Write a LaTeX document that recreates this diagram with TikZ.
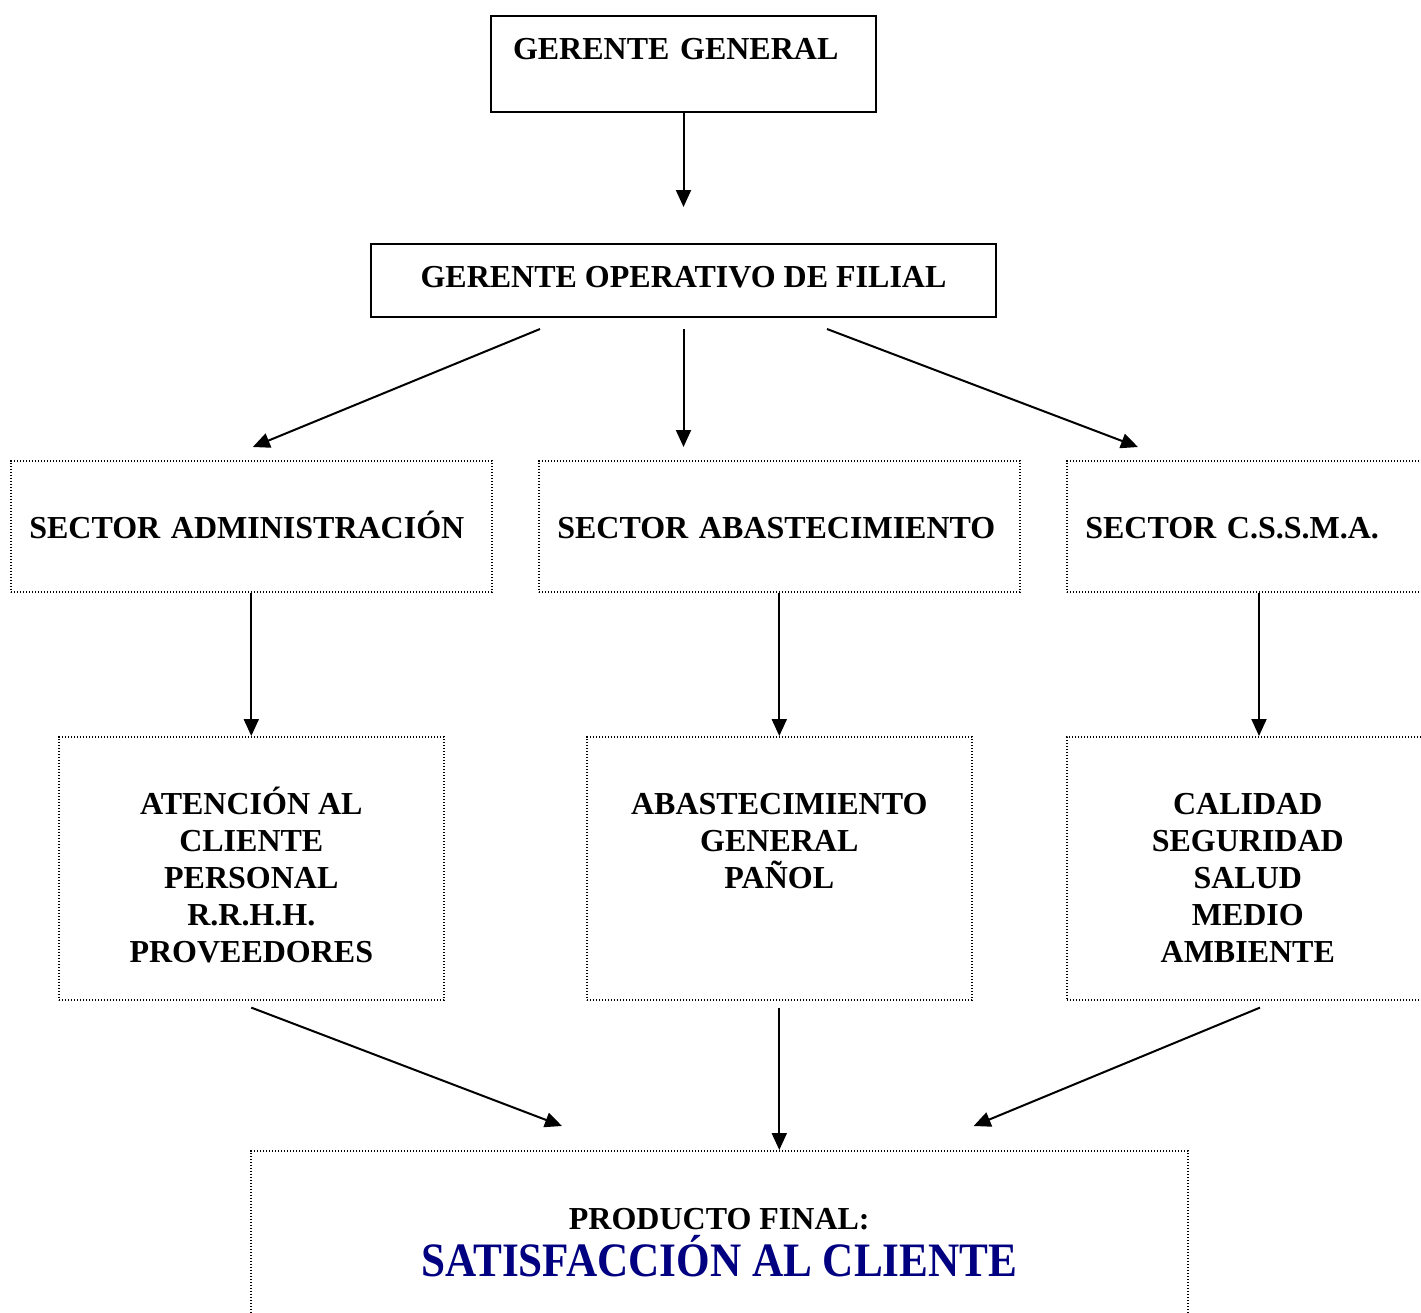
\documentclass[tikz,border=0pt]{standalone}
\usepackage{fontspec}
\usepackage{graphicx}
\setmainfont{Liberation Serif}
\usetikzlibrary{arrows.meta, calc}
\definecolor{navytext}{RGB}{0,0,128}
\tikzstyle{headbox} = [rectangle, draw=black, line width=1pt, inner sep=0pt, font=\bfseries\fontsize{16}{18.5}\selectfont]
\tikzstyle{sectorbox} = [rectangle, draw=black, line width=0.8pt, dash pattern=on 0.6pt off 0.9pt, minimum width=240.5pt, minimum height=65.5pt, text width=222pt, inner xsep=9.25pt, inner ysep=0pt, align=left, text height=12.5pt, text depth=0pt, font=\bfseries\fontsize{16}{18.5}\selectfont]
\tikzstyle{areabox} = [rectangle, draw=black, line width=0.8pt, dash pattern=on 0.6pt off 0.9pt, minimum width=192.5pt, inner sep=0pt, align=center, font=\bfseries\fontsize{16}{18.5}\selectfont]
\tikzstyle{arrow} = [line width=1pt, -{Triangle[length=8.5pt,width=7.5pt]}]

\begin{document}
\begin{tikzpicture}[x=0.5pt, y=-0.5pt]
    \useasboundingbox (0,0) rectangle (1421,1313);

    % Gerencia
    \node (gg) [headbox, anchor=north west, text width=170.5pt, inner xsep=11pt, align=left, text height=21.5pt, text depth=26.5pt] at (490,15) {GERENTE GENERAL};
    \node (go) [headbox, anchor=north west, minimum width=312.5pt, minimum height=36.5pt, text height=11pt, text depth=4.5pt] at (370,243) {GERENTE OPERATIVO DE FILIAL};

    % Sectores
    \node (sa) [sectorbox, anchor=north west] at (10,460) {SECTOR ADMINISTRACIÓN};
    \node (sb) [sectorbox, anchor=north west] at (538,460) {SECTOR ABASTECIMIENTO};
    \node (sc) [sectorbox, anchor=north west] at (1066,460) {SECTOR C.S.S.M.A.};

    % Areas
    \node (ac) [areabox, anchor=north west, text height=113pt, text depth=18.5pt] at (58,736) {ATENCIÓN AL\\CLIENTE\\PERSONAL\\R.R.H.H.\\PROVEEDORES};
    \node (ab) [areabox, anchor=north west, text height=76pt, text depth=55.5pt] at (586,736) {ABASTECIMIENTO\\GENERAL\\PAÑOL};
    \node (css) [areabox, anchor=north west, minimum width=181pt, text height=113pt, text depth=18.5pt] at (1066,736) {CALIDAD\\SEGURIDAD\\SALUD\\MEDIO\\AMBIENTE};

    % Producto final
    \node (pf) [areabox, anchor=north west, minimum width=468.5pt, text height=63pt, text depth=40pt] at (250,1150) {PRODUCTO FINAL:\\[2pt]{\color{navytext}\scalebox{0.9}[1]{\fontsize{24}{26}\selectfont SATISFACCIÓN AL CLIENTE}}};

    % Arrows
    \draw [arrow, shorten >=18pt] (gg.south) -- (go.north);
    \draw [arrow] ($(go.south)+(-143.5,11)$) -- ($(sa.north)+(1.5,-13)$);
    \draw [arrow] ($(go.south)+(0,11)$) -- ($(go.south |- sb.north)+(0,-13)$);
    \draw [arrow] ($(go.south)+(143.5,11)$) -- ($(sc.north west)+(72,-13)$);

    \draw [arrow] (sa.south) -- (ac.north);
    \draw [arrow] (sb.south) -- (ab.north);
    \draw [arrow] ($(sc.south west)+(193,0)$) -- ($(css.north west)+(193,0)$);

    \draw [arrow] ($(ac.south)+(0,7)$) -- ($(pf.north west)+(312,-24)$);
    \draw [arrow] ($(ab.south)+(0,7)$) -- (ab.south |- pf.north);
    \draw [arrow] ($(css.south west)+(194,7)$) -- ($(pf.north east)+(-215,-24)$);

\end{tikzpicture}
\end{document}
